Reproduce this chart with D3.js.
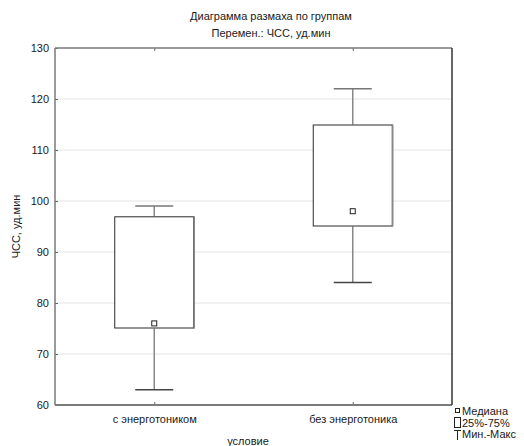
<!DOCTYPE html>
<html><head><meta charset="utf-8">
<script src="https://cdn.jsdelivr.net/npm/d3@7/dist/d3.min.js"></script>
<style>
body{margin:0;background:#fff;}
svg{display:block;font-family:"Liberation Sans",Arial,sans-serif;}
</style></head>
<body><svg id="c" width="524" height="446"></svg>
<script>
const categories = ["с энерготоником", "без энерготоника"];
const minVals = [63, 84];
const q1Vals = [75, 95];
const medianVals = [76, 98];
const q3Vals = [97, 115];
const maxVals = [99, 122];
const yTicks = [60, 70, 80, 90, 100, 110, 120, 130];
const titleLines = ["Диаграмма размаха по группам", "Перемен.: ЧСС, уд.мин"];
const yLabel = "ЧСС, уд.мин";
const xLabel = "условие";
const legendLabels = ["Медиана", "25%-75%", "Мин.-Макс"];

const L = 55, R = 452, T = 48, B = 405;
const svg = d3.select("#c");
const y = d3.scaleLinear().domain([60, 130]).range([B, T]);
const x = d3.scalePoint().domain(categories).range([L, R]).padding(0.5);
const txt = "#1a1a1a";

// gridlines
svg.append("g").selectAll("line").data(yTicks.filter(t => t > 60 && t < 130)).join("line")
  .attr("x1", L).attr("x2", R).attr("y1", d => y(d)).attr("y2", d => y(d))
  .attr("stroke", "#e4e4e4").attr("stroke-width", 1);

// y axis
const ya = svg.append("g").attr("transform", `translate(${L},0)`)
  .call(d3.axisLeft(y).tickValues(yTicks).tickSize(-3).tickPadding(6));
ya.select(".domain").remove();
ya.selectAll(".tick line").attr("stroke", "#666");
ya.selectAll("text").attr("font-size", 11).attr("fill", txt).attr("font-family", "Liberation Sans, Arial, sans-serif");

// bottom axis
const xa = svg.append("g").attr("transform", `translate(0,${B})`)
  .call(d3.axisBottom(x).tickSize(-3).tickPadding(8));
xa.select(".domain").remove();
xa.selectAll(".tick line").attr("stroke", "#666");
xa.selectAll("text").attr("font-size", 11).attr("fill", txt).attr("font-family", "Liberation Sans, Arial, sans-serif").attr("dy", "0.71em").attr("y", 10);

// top axis ticks
const xt = svg.append("g").attr("transform", `translate(0,${T})`)
  .call(d3.axisTop(x).tickSize(-3).tickFormat(""));
xt.select(".domain").remove();
xt.selectAll(".tick line").attr("stroke", "#666");

// frame
svg.append("line").attr("x1", L).attr("x2", R).attr("y1", T).attr("y2", T).attr("stroke", "#7a7a7a").attr("stroke-width", 1.5);
svg.append("line").attr("x1", L).attr("x2", L).attr("y1", T).attr("y2", B).attr("stroke", "#7a7a7a").attr("stroke-width", 1.5);
svg.append("line").attr("x1", L).attr("x2", R).attr("y1", B).attr("y2", B).attr("stroke", "#7a7a7a").attr("stroke-width", 2);
svg.append("line").attr("x1", R).attr("x2", R).attr("y1", T).attr("y2", B).attr("stroke", "#333").attr("stroke-width", 1.5);

// boxes
const bw = 80, cw = 38;
const data = categories.map((c, i) => ({c, mn: minVals[i], q1: q1Vals[i], md: medianVals[i], q3: q3Vals[i], mx: maxVals[i]}));
const g = svg.append("g").selectAll("g").data(data).join("g");
g.append("line").attr("x1", d => x(d.c)).attr("x2", d => x(d.c))
  .attr("y1", d => y(d.mx)).attr("y2", d => y(d.q3)).attr("stroke", "#888").attr("stroke-width", 1.5);
g.append("line").attr("x1", d => x(d.c)).attr("x2", d => x(d.c))
  .attr("y1", d => y(d.q1)).attr("y2", d => y(d.mn)).attr("stroke", "#888").attr("stroke-width", 1.5);
g.append("line").attr("x1", d => x(d.c) - cw / 2).attr("x2", d => x(d.c) + cw / 2)
  .attr("y1", d => y(d.mx)).attr("y2", d => y(d.mx)).attr("stroke", "#777").attr("stroke-width", 1.5);
g.append("line").attr("x1", d => x(d.c) - cw / 2).attr("x2", d => x(d.c) + cw / 2)
  .attr("y1", d => y(d.mn)).attr("y2", d => y(d.mn)).attr("stroke", "#444").attr("stroke-width", 1.5);
g.append("rect").attr("x", d => x(d.c) - bw / 2 + 0.5).attr("width", bw - 1)
  .attr("y", d => y(d.q3) + 0.5).attr("height", d => y(d.q1) - y(d.q3) - 1)
  .attr("fill", "#fff").attr("stroke", "#2a2a2a").attr("stroke-width", 1);
g.append("line").attr("x1", d => x(d.c) + bw / 2).attr("x2", d => x(d.c) + bw / 2)
  .attr("y1", d => y(d.q3)).attr("y2", d => y(d.q1)).attr("stroke", "#888").attr("stroke-width", 1.5);
g.append("rect").attr("x", d => x(d.c) - 2.5).attr("y", d => y(d.md) - 2.5)
  .attr("width", 5).attr("height", 5).attr("fill", "#fff").attr("stroke", "#222").attr("stroke-width", 1);

// titles
svg.append("g").selectAll("text").data(titleLines).join("text")
  .attr("x", 271).attr("y", (d, i) => 19.5 + i * 17).attr("text-anchor", "middle")
  .attr("font-size", 11).attr("fill", txt).text(d => d);

// axis labels
svg.append("text").attr("transform", `translate(20,${(T + B) / 2}) rotate(-90)`)
  .attr("text-anchor", "middle").attr("font-size", 11).attr("fill", txt).text(yLabel);
svg.append("text").attr("x", 248).attr("y", 445).attr("text-anchor", "middle")
  .attr("font-size", 11).attr("fill", txt).text(xLabel);

// legend
const lg = svg.append("g");
lg.append("rect").attr("x", 455.5).attr("y", 408.5).attr("width", 4).attr("height", 4).attr("fill", "#fff").attr("stroke", "#222");
lg.append("rect").attr("x", 454.5).attr("y", 417.5).attr("width", 6).attr("height", 10).attr("fill", "#fff").attr("stroke", "#222");
lg.append("line").attr("x1", 454).attr("x2", 461).attr("y1", 430.5).attr("y2", 430.5).attr("stroke", "#222");
lg.append("line").attr("x1", 457.5).attr("x2", 457.5).attr("y1", 430).attr("y2", 440).attr("stroke", "#222");
lg.selectAll("text").data(legendLabels).join("text")
  .attr("x", 462).attr("y", (d, i) => 415 + i * 11.5).attr("font-size", 11).attr("fill", txt).text(d => d);
</script></body></html>
